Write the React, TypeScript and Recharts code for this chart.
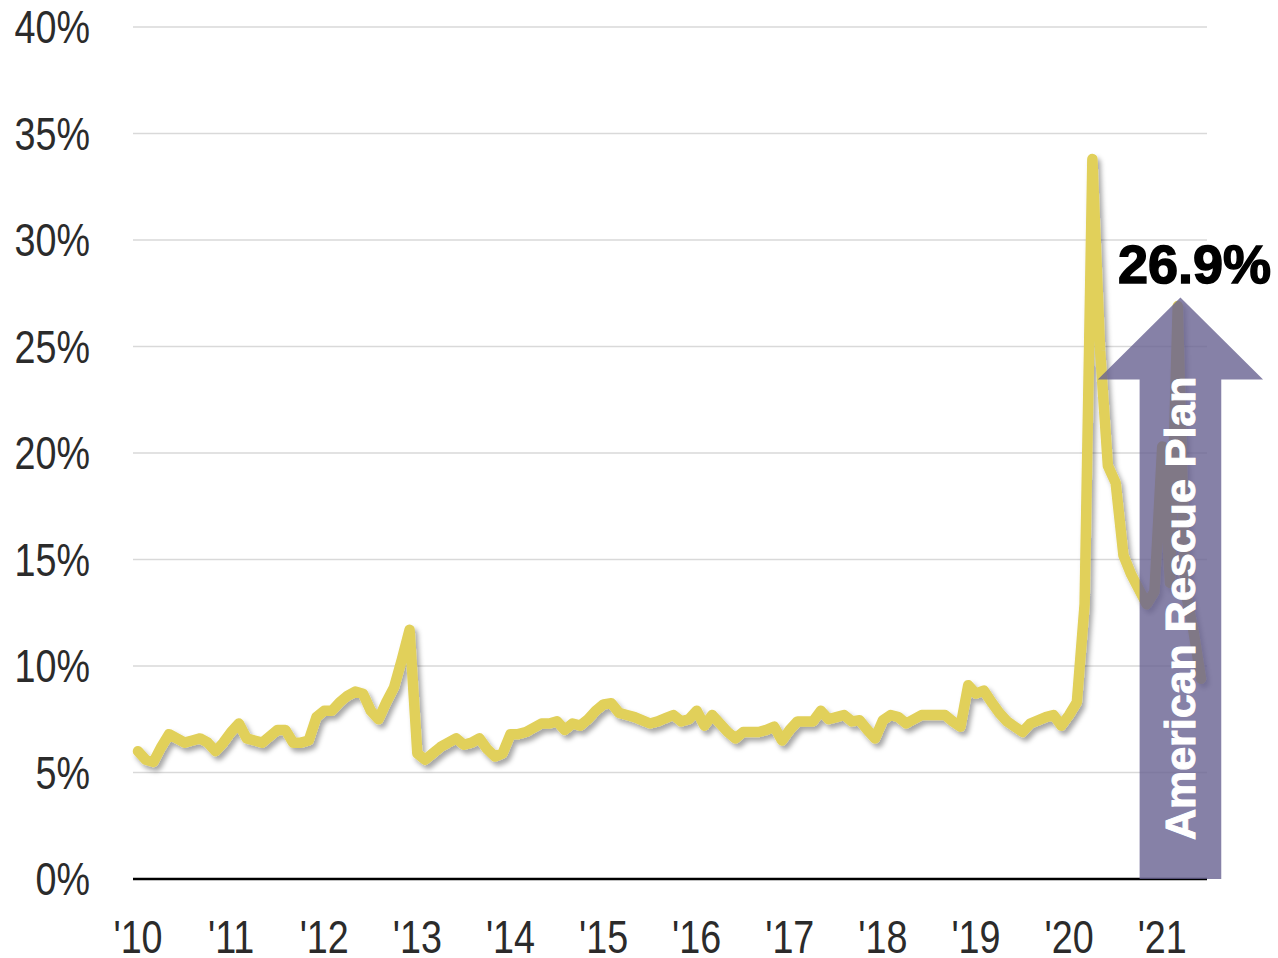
import React from 'react';
import {
  LineChart,
  Line,
  XAxis,
  YAxis,
  CartesianGrid,
  ReferenceArea,
} from 'recharts';

// personal saving rate, monthly, Jan 2010 - Jun 2021 (%)
const savingRate = [
  // 2010
  6.0, 5.6, 5.5, 6.2, 6.8, 6.6, 6.4, 6.5, 6.6, 6.4, 6.0, 6.4,
  // 2011
  6.9, 7.3, 6.6, 6.5, 6.4, 6.7, 7.0, 7.0, 6.4, 6.4, 6.5, 7.6,
  // 2012
  7.9, 7.9, 8.3, 8.6, 8.8, 8.7, 7.9, 7.5, 8.3, 9.0, 10.3, 11.7,
  // 2013
  5.9, 5.6, 5.9, 6.2, 6.4, 6.6, 6.3, 6.4, 6.6, 6.1, 5.75, 5.9,
  // 2014
  6.8, 6.8, 6.9, 7.1, 7.3, 7.3, 7.4, 7.0, 7.3, 7.2, 7.5, 7.9,
  // 2015
  8.2, 8.25, 7.8, 7.7, 7.6, 7.45, 7.3, 7.4, 7.55, 7.7, 7.4, 7.5,
  // 2016
  7.9, 7.2, 7.7, 7.3, 6.9, 6.6, 6.9, 6.9, 6.9, 7.0, 7.15, 6.5,
  // 2017
  7.0, 7.4, 7.4, 7.4, 7.9, 7.5, 7.6, 7.7, 7.4, 7.45, 7.0, 6.6,
  // 2018
  7.45, 7.7, 7.6, 7.3, 7.5, 7.7, 7.7, 7.7, 7.7, 7.4, 7.15, 9.1,
  // 2019
  8.7, 8.85, 8.3, 7.8, 7.4, 7.15, 6.9, 7.3, 7.45, 7.6, 7.7, 7.2,
  // 2020
  7.7, 8.3, 12.9, 33.8, 24.8, 19.4, 18.6, 15.2, 14.3, 13.6, 12.9, 13.5,
  // 2021
  20.3, 13.9, 26.9, 13.5, 11.7, 9.4,
];

const yearLabels = ["'10", "'11", "'12", "'13", "'14", "'15", "'16", "'17", "'18", "'19", "'20", "'21"];
const yTicks = [0, 5, 10, 15, 20, 25, 30, 35, 40];
const xTicks = yearLabels.map((_, k) => k * 12);

// arrow annotation, in month index / percent
const arrowX = [123.7, 145.0];
const arrowY = [0, 27.3];
const arrowLabel = 'American Rescue Plan';
const peakLabel = '26.9%';

const data = savingRate.map((v, i) => ({ i, v }));

// no narrow font installed, so squeeze Liberation Sans horizontally
const tickFont = "'Liberation Sans', Arial, sans-serif";
const squeeze = 0.82;

const YTick = ({ x, y, payload }: any) => (
  <text
    transform={`translate(${x},${y}) scale(${squeeze},1)`}
    textAnchor="end"
    dy="0.355em"
    fontSize={46}
    fill="#2b2b2b"
    fontFamily={tickFont}
  >
    {`${payload.value}%`}
  </text>
);

const XTick = ({ x, y, payload }: any) => (
  <text
    transform={`translate(${x},${y}) scale(${squeeze},1)`}
    textAnchor="middle"
    dy="0.71em"
    fontSize={46}
    fill="#2b2b2b"
    fontFamily={tickFont}
  >
    {yearLabels[Math.round(payload.value / 12)]}
  </text>
);

const ArrowShape = (props: any) => {
  const { x, y, width, height } = props;
  const head = 82;
  const cx = x + width / 2;
  const sl = x + width * 0.253;
  const sr = x + width * 0.747;
  const pts = [
    [cx, y],
    [x + width, y + head],
    [sr, y + head],
    [sr, y + height],
    [sl, y + height],
    [sl, y + head],
    [x, y + head],
  ]
    .map((p) => p.join(','))
    .join(' ');
  const textY = y + head + (height - head) / 2 - 21;
  return (
    <g>
      <polygon points={pts} fill="rgba(104,97,145,0.8)" />
      <text
        x={cx}
        y={textY}
        transform={`rotate(-90 ${cx} ${textY})`}
        textAnchor="middle"
        dominantBaseline="central"
        fontFamily="'Liberation Sans', Arial, sans-serif"
        fontWeight="bold"
        fontSize={43}
        fill="#fff"
        stroke="#fff"
        strokeWidth={1}
      >
        {arrowLabel}
      </text>
      <text
        x={cx + 14}
        y={y - 15}
        textAnchor="middle"
        fontFamily="'Liberation Sans', Arial, sans-serif"
        fontWeight="bold"
        fontSize={54}
        fill="#000"
        stroke="#000"
        strokeWidth={1.5}
      >
        {peakLabel}
      </text>
    </g>
  );
};

export default function App() {
  return (
    <div style={{ position: 'absolute', left: 0, top: 0, background: '#fff' }}>
      <LineChart
        width={1278}
        height={958}
        data={data}
        margin={{ top: 27, right: 71, left: 0, bottom: 0 }}
      >
        <defs>
          <filter id="lineShadow" x="-5%" y="-5%" width="110%" height="115%">
            <feDropShadow dx="3" dy="4" stdDeviation="2.5" floodColor="#000" floodOpacity="0.35" />
          </filter>
        </defs>
        <CartesianGrid vertical={false} stroke="#d9d9d9" strokeWidth={1.5} />
        <XAxis
          dataKey="i"
          type="number"
          domain={[0, savingRate.length - 1]}
          ticks={xTicks}
          interval={0}
          padding={{ left: 5, right: 6 }}
          axisLine={{ stroke: '#000', strokeWidth: 2.5 }}
          tickLine={false}
          tickSize={0}
          tickMargin={41}
          height={79}
          tick={<XTick />}
        />
        <YAxis
          type="number"
          domain={[0, 40]}
          ticks={yTicks}
          interval={0}
          axisLine={false}
          tickLine={false}
          tickSize={0}
          tickMargin={43}
          width={133}
          tick={<YTick />}
        />
        <Line
          type="linear"
          dataKey="v"
          stroke="#e1d05a"
          strokeWidth={10.5}
          strokeLinejoin="round"
          strokeLinecap="round"
          dot={false}
          activeDot={false}
          filter="url(#lineShadow)"
          isAnimationActive={false}
        />
        <ReferenceArea
          x1={arrowX[0]}
          x2={arrowX[1]}
          y1={arrowY[0]}
          y2={arrowY[1]}
          ifOverflow="visible"
          shape={ArrowShape}
          zIndex={2000}
        />
      </LineChart>
    </div>
  );
}
